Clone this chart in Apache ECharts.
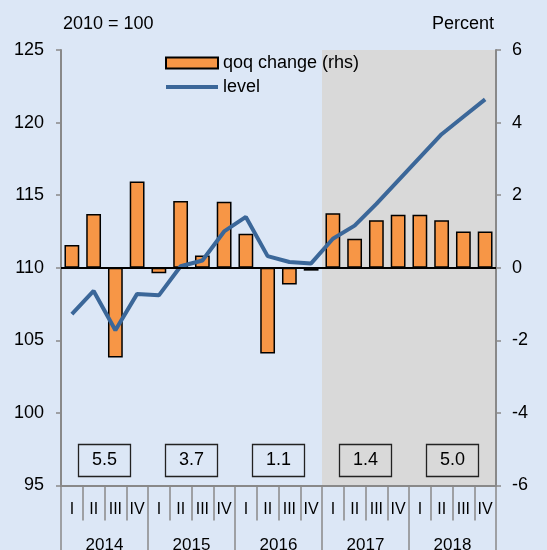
<!DOCTYPE html>
<html><head><meta charset="utf-8">
<script src="https://cdn.jsdelivr.net/npm/echarts@6/dist/echarts.min.js"></script>
<style>html,body{margin:0;padding:0;background:#dce7f6}#c{width:547px;height:550px}</style>
</head><body><div id="c"></div>
<script>
const years = ['2014','2015','2016','2017','2018'];
const quarters = ['I','II','III','IV'];
const qoqChange = [0.63, 1.48, -2.47, 2.38, -0.15, 1.84, 0.34, 1.82, 0.94, -2.36, -0.46, -0.08, 1.50, 0.80, 1.31, 1.46, 1.46, 1.31, 1.00, 1.00];
const level = [106.8, 108.4, 105.7, 108.2, 108.1, 110.1, 110.5, 112.5, 113.5, 110.8, 110.4, 110.3, 112.0, 112.9, 114.4, 116.0, 117.6, 119.2, 120.4, 121.6];
const annualGrowth = ['5.5','3.7','1.1','1.4','5.0'];
const shadedYears = ['2017','2018'];
const leftTicks = {min: 95, max: 125, interval: 5};
const rightTicks = {min: -6, max: 6, interval: 2};

const categories = [];
years.forEach(y => quarters.forEach(q => categories.push(y + ' ' + q)));
const shadeFrom = years.indexOf(shadedYears[0]) * 4;
const shadeTo = (years.indexOf(shadedYears[shadedYears.length - 1]) + 1) * 4 - 1;

const FONT = 'Liberation Sans, Arial, sans-serif';
const gray = '#898989';
const lineColor = '#3b6799';
const chart = echarts.init(document.getElementById('c'));
chart.setOption({
  backgroundColor: '#dce7f6',
  animation: false,
  textStyle: {fontFamily: FONT, color: '#000'},
  grid: {left: 61, right: 51, top: 50, bottom: 64.5, containLabel: false, outerBoundsMode: 'none'},
  legend: {
    orient: 'vertical', left: 164, top: 54, padding: 0, itemWidth: 52, itemHeight: 11, itemGap: 6,
    textStyle: {fontSize: 18, fontFamily: FONT, color: '#000'},
    data: [{name: 'qoq change (rhs)', icon: 'rect'},
           {name: 'level', itemStyle: {opacity: 0}, lineStyle: {width: 4, color: lineColor}}]
  },
  xAxis: [{
    type: 'category', data: categories, position: 'bottom',
    axisLine: {show: true, onZero: false, lineStyle: {color: gray, width: 2}},
    axisTick: {show: true, length: 35, interval: 0, lineStyle: {color: gray, width: 1.5}},
    axisLabel: {interval: 0, margin: 16, fontSize: 16, color: '#000', fontFamily: FONT,
      formatter: v => v.split(' ')[1]}
  }, {
    type: 'category', data: years, position: 'bottom', gridIndex: 0,
    axisLine: {show: false, onZero: false},
    axisTick: {show: true, length: 80, interval: 0, lineStyle: {color: gray, width: 1.5}},
    axisLabel: {interval: 0, margin: 51, fontSize: 17, color: '#000', fontFamily: FONT}
  }],
  yAxis: [{
    type: 'value', min: leftTicks.min, max: leftTicks.max, interval: leftTicks.interval,
    position: 'left', name: '2010 = 100', nameLocation: 'end', nameGap: 17,
    nameTextStyle: {fontSize: 18, align: 'left', color: '#000', fontFamily: FONT, padding: [0,0,0,2]},
    axisLine: {show: true, lineStyle: {color: gray, width: 2}},
    axisTick: {show: true, length: 5, lineStyle: {color: gray, width: 1.5}},
    axisLabel: {fontSize: 18, margin: 17, color: '#000', fontFamily: FONT},
    splitLine: {show: false}
  }, {
    type: 'value', min: rightTicks.min, max: rightTicks.max, interval: rightTicks.interval,
    position: 'right', name: 'Percent', nameLocation: 'end', nameGap: 17,
    nameTextStyle: {fontSize: 18, align: 'right', color: '#000', fontFamily: FONT, padding: [0,2,0,0]},
    axisLine: {show: true, lineStyle: {color: gray, width: 2}},
    axisTick: {show: true, length: 5, lineStyle: {color: gray, width: 1.5}},
    axisLabel: {fontSize: 18, margin: 16, color: '#000', fontFamily: FONT},
    splitLine: {show: false}
  }],
  series: [{
    type: 'custom', name: 'shade', silent: true, z: 0, xAxisIndex: 0, yAxisIndex: 0,
    data: [[shadeFrom, shadeTo]],
    renderItem: (params, api) => {
      const bw = api.size([1, 0])[0];
      const x0 = api.coord([api.value(0), leftTicks.min])[0] - bw / 2;
      const x1 = api.coord([api.value(1), leftTicks.min])[0] + bw / 2;
      const cs = params.coordSys;
      return {type: 'rect', shape: {x: x0, y: cs.y, width: x1 - x0, height: cs.height},
        style: {fill: '#d9d9d9'}};
    }
  }, {
    type: 'bar', name: 'qoq change (rhs)', yAxisIndex: 1, xAxisIndex: 0, z: 2,
    data: qoqChange, barCategoryGap: '32%',
    itemStyle: {color: '#f79646', borderColor: '#000', borderWidth: 1.5},
    markLine: {silent: true, symbol: 'none', label: {show: false},
      lineStyle: {color: '#000', width: 2, type: 'solid'}, data: [{yAxis: 0}]}
  }, {
    type: 'line', name: 'level', yAxisIndex: 0, xAxisIndex: 0, z: 3,
    data: level, symbol: 'none', smooth: false,
    lineStyle: {color: lineColor, width: 4}, itemStyle: {color: lineColor}
  }, {
    type: 'custom', name: 'annual', silent: true, z: 4, xAxisIndex: 0, yAxisIndex: 0,
    data: annualGrowth.map((v, i) => [i, v]),
    renderItem: (params, api) => {
      const i = api.value(0);
      const xa = api.coord([4 * i + 1, leftTicks.min])[0];
      const xb = api.coord([4 * i + 2, leftTicks.min])[0];
      const cx = (xa + xb) / 2;
      const cs = params.coordSys;
      const cy = cs.y + cs.height - 25;
      const w = 52, h = 32;
      return {type: 'group', children: [
        {type: 'rect', shape: {x: cx - w / 2, y: cy - h / 2, width: w, height: h},
          style: {fill: 'none', stroke: '#222', lineWidth: 1.3}},
        {type: 'text', style: {text: annualGrowth[i], x: cx, y: cy, align: 'center',
          verticalAlign: 'middle', fontSize: 18, fontFamily: FONT, fill: '#000'}}
      ]};
    }
  }]
});
</script></body></html>
